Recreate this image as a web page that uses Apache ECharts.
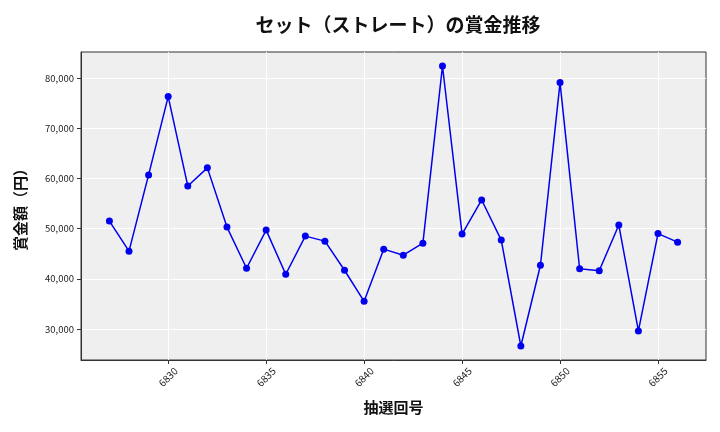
<!DOCTYPE html>
<html><head><meta charset="utf-8">
<script src="https://cdn.jsdelivr.net/npm/echarts@6/dist/echarts.min.js"></script>
<style>html,body{margin:0;padding:0;background:#fff}#c{width:720px;height:432px}</style>
</head><body><div id="c"></div>
<script>
const draws = [6827,6828,6829,6830,6831,6832,6833,6834,6835,6836,6837,6838,6839,6840,6841,6842,6843,6844,6845,6846,6847,6848,6849,6850,6851,6852,6853,6854,6855,6856];
const prizes = [51500,45500,60700,76300,58500,62100,50300,42100,49700,40900,48500,47500,41700,35500,45900,44700,47100,82400,48900,55700,47700,26600,42700,79100,42000,41600,50700,29600,49000,47300];
const xTicks = [6830,6835,6840,6845,6850,6855];
const yTicks = [30000,40000,50000,60000,70000,80000];
const titleText = 'セット（ストレート）の賞金推移';
const xName = '抽選回号';
const yName = '賞金額（円）';

const font = '"Noto Sans CJK JP", "DejaVu Sans", sans-serif';
const xmin = Math.min(...draws), xmax = Math.max(...draws);
const ymin = Math.min(...prizes), ymax = Math.max(...prizes);
const xpad = (xmax - xmin) * 0.05, ypad = (ymax - ymin) * 0.05;

const chart = echarts.init(document.getElementById('c'));
chart.setOption({
  animation: false,
  title: { text: titleText, left: 393, top: 10, textAlign: 'center',
    textStyle: { fontFamily: font, fontSize: 19, fontWeight: 'bold', color: '#111' } },
  grid: { left: 81, right: 14, top: 52, bottom: 72, show: true,
    backgroundColor: '#efefef', borderColor: '#333', borderWidth: 1 },
  xAxis: {
    type: 'value', min: xmin - xpad, max: xmax + xpad,
    name: xName, nameLocation: 'middle', nameGap: 40,
    nameTextStyle: { fontFamily: font, fontSize: 15, fontWeight: 'bold', color: '#111' },
    axisLine: { show: true, lineStyle: { color: '#333', width: 1 } },
    axisTick: { show: true, length: 4, lineStyle: { color: '#333' }, customValues: xTicks },
    axisLabel: { rotate: 45, align: 'center', verticalAlign: 'middle', fontFamily: font, fontSize: 10, color: '#222', margin: 17,
      customValues: xTicks, formatter: v => String(v) },
    splitLine: { show: true, lineStyle: { color: '#ffffff', width: 1 } }
  },
  yAxis: {
    type: 'value', min: ymin - ypad, max: ymax + ypad,
    name: yName, nameLocation: 'middle', nameGap: 53, nameRotate: 90,
    nameTextStyle: { fontFamily: font, fontSize: 15, fontWeight: 'bold', color: '#111' },
    axisLine: { show: true, lineStyle: { color: '#333', width: 1 } },
    axisTick: { show: true, length: 4, lineStyle: { color: '#333' }, customValues: yTicks },
    axisLabel: { fontFamily: font, fontSize: 9.5, color: '#222', margin: 7,
      customValues: yTicks, formatter: v => v.toLocaleString('en-US') },
    splitLine: { show: true, lineStyle: { color: '#ffffff', width: 1 } }
  },
  series: [{
    type: 'line', data: draws.map((d, i) => [d, prizes[i]]),
    lineStyle: { color: '#0000ee', width: 1.5 },
    itemStyle: { color: '#0000ee' },
    symbol: 'circle', symbolSize: 7, showSymbol: true
  }]
});
</script></body></html>
